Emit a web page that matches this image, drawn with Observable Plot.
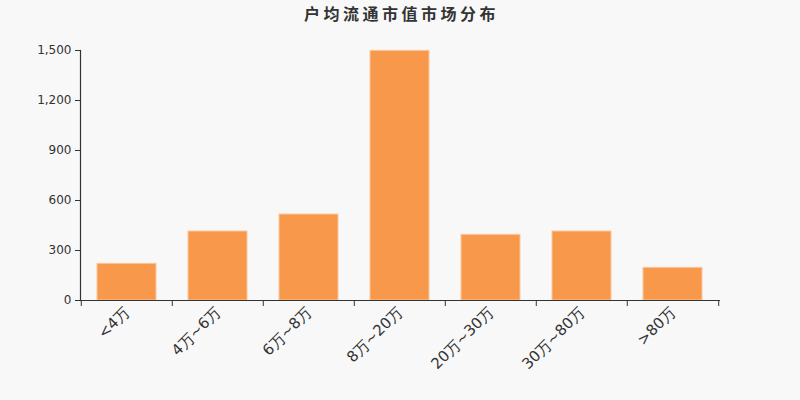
<!DOCTYPE html>
<html>
<head>
<meta charset="utf-8">
<script src="https://cdn.jsdelivr.net/npm/d3@7"></script>
<script src="https://cdn.jsdelivr.net/npm/@observablehq/plot@0.6"></script>
<style>
  html, body { margin: 0; padding: 0; background: #f8f8f8; }
  #title { height: 28px; line-height: 26px; text-align: center; font-family: "Noto Sans CJK SC", sans-serif; font-weight: bold; font-size: 16px; color: #333; letter-spacing: 3.5px; padding-left: 3px; }
</style>
</head>
<body>
<div id="title">户均流通市值市场分布</div>
<div id="chart"></div>
<script>
const categories = ["<4万", "4万~6万", "6万~8万", "8万~20万", "20万~30万", "30万~80万", ">80万"];
const values = [220, 414, 516, 1498, 394, 414, 196];
const yTicks = [0, 300, 600, 900, 1200, 1500];

const data = categories.map((c, i) => ({category: c, value: values[i]}));

const width = 800, height = 372;
const mL = 80, mR = 80;
const step = (width - mL - mR) / categories.length;
const font = "DejaVu Sans, sans-serif";

const chart = Plot.plot({
  width, height,
  marginLeft: mL, marginRight: mR, marginTop: 22, marginBottom: 100,
  style: {background: "#f8f8f8", fontFamily: font, color: "#333"},
  x: {domain: categories, paddingInner: 0.35, paddingOuter: 0.175, label: null},
  y: {domain: [0, 1500], label: null},
  marks: [
    Plot.barY(data, {x: "category", y: "value", fill: "#f7984a", stroke: "#fbc79e", strokeWidth: 1}),
    Plot.axisY(yTicks, {tickSize: 5, tickPadding: 4, tickFormat: d3.format(","), fontSize: 12, fill: "#333", stroke: "#333"}),
    Plot.frame({anchor: "left", stroke: "#333", strokeWidth: 1.2}),
    Plot.ruleY([0], {stroke: "#333", strokeWidth: 1.2}),
    Plot.axisX(categories, {tickSize: 0, tickPadding: 9, tickRotate: -45, fontSize: 15, fill: "#333"}),
    Plot.axisX(categories, {tickSize: 6, tickFormat: null, dx: -step / 2, stroke: "#333"}),
    Plot.axisX([categories[categories.length - 1]], {tickSize: 6, tickFormat: null, dx: step / 2, stroke: "#333"})
  ]
});
document.getElementById("chart").appendChild(chart);
</script>
</body>
</html>
